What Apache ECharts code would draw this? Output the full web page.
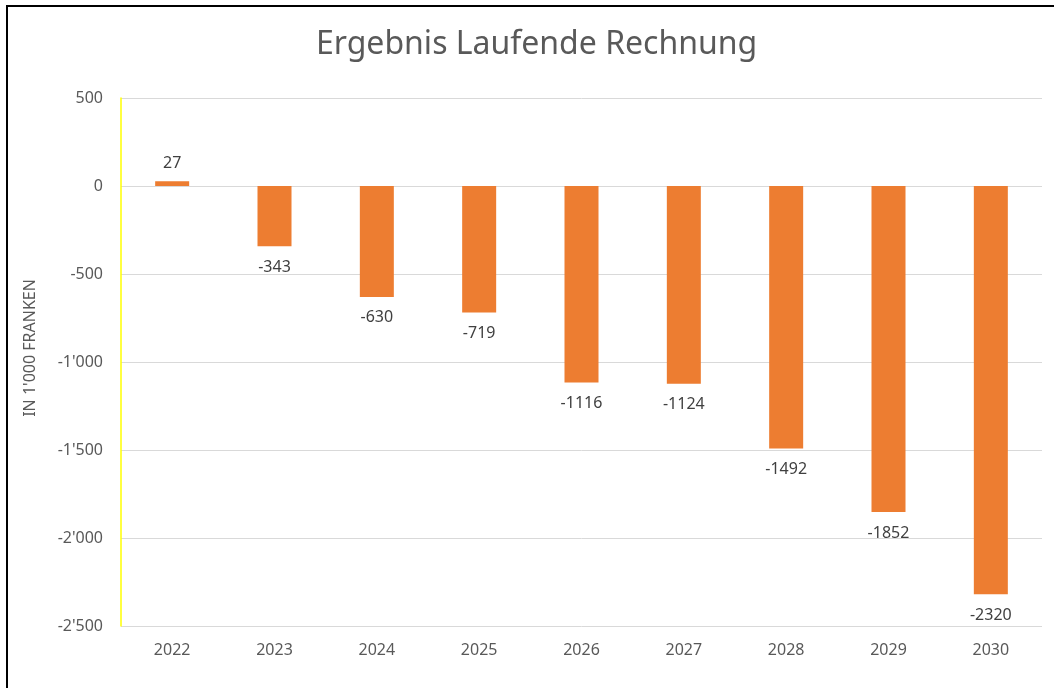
<!DOCTYPE html>
<html><head><meta charset="utf-8">
<script src="https://cdn.jsdelivr.net/npm/echarts@6/dist/echarts.min.js"></script>
<style>html,body{margin:0;padding:0;background:#fff}#c{width:1054px;height:688px}</style>
</head><body><div id="c"></div>
<script>
const categories = ['2022','2023','2024','2025','2026','2027','2028','2029','2030'];
const values = [27,-343,-630,-719,-1116,-1124,-1492,-1852,-2320];
const yTicks = {min:-2500, max:500, interval:500};
const fmt = v => { const s = Math.abs(v).toString(); const t = s.replace(/\B(?=(\d{3})+(?!\d))/g, "'"); return (v<0?'-':'') + t; };
const chart = echarts.init(document.getElementById('c'));
chart.setOption({
  backgroundColor:'#fff',
  animation:false,
  title:{text:'Ergebnis Laufende Rechnung', left:311, top:24,
    textStyle:{fontFamily:'Noto Sans', fontSize:32, fontWeight:'normal', color:'#595959'}},
  graphic:[
    {type:'rect', shape:{x:6,y:5,width:2,height:690}, style:{fill:'#000'}},
    {type:'rect', shape:{x:6,y:5,width:1060,height:2}, style:{fill:'#000'}}
  ],
  grid:{left:121, right:12, top:98, bottom:62},
  xAxis:{type:'category', data:categories,
    axisLine:{show:false}, axisTick:{show:false},
    axisLabel:{color:'#595959', fontFamily:'Noto Sans', fontSize:16, margin:16}},
  yAxis:{type:'value', min:yTicks.min, max:yTicks.max, interval:yTicks.interval,
    name:"IN 1'000 FRANKEN", nameLocation:'middle', nameGap:83, nameRotate:90,
    nameTextStyle:{color:'#595959', fontFamily:'Noto Sans', fontSize:16, padding:[0,0,0,28]},
    axisLine:{show:true, lineStyle:{color:'#FFFF00', width:1.5}},
    axisTick:{show:false},
    axisLabel:{color:'#595959', fontFamily:'Noto Sans', fontSize:16, margin:18, formatter:fmt},
    splitLine:{lineStyle:{color:'#D9D9D9', width:1}}},
  series:[{type:'bar', barWidth:34, itemStyle:{color:'#ED7D31'},
    data: values.map(v=>({value:v, label:{position: v<0?'bottom':'top', distance: v<0?13:10}})),
    label:{show:true, color:'#404040', fontFamily:'Noto Sans', fontSize:16,
      formatter:p=>p.value}}]
});
</script></body></html>
